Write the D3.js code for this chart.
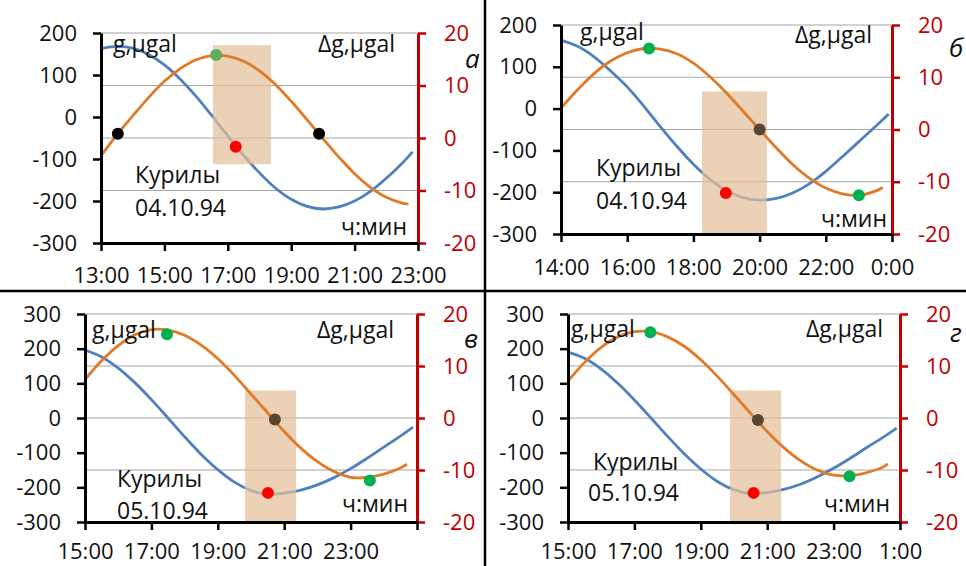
<!DOCTYPE html>
<html><head><meta charset="utf-8">
<script src="https://cdn.jsdelivr.net/npm/d3@7"></script>
<style>
html,body{margin:0;padding:0;background:#fff;}
svg{display:block;font-family:"Open Sans",sans-serif;}
</style></head>
<body>
<svg id="c" width="966" height="566"></svg>
<script>
// ---------- DATA ----------
// Panel а (Курилы 04.10.94)
const gTimeA  = [13,13.5,14,14.5,15,15.5,16,16.5,17,17.5,18,18.5,19,19.5,20,20.5,21,21.5,22,22.5,22.83];
const gA      = [163,168,164,149,124,90,49,3,-45,-91,-133,-169,-196,-213,-219,-214,-200,-177,-146,-110,-83];
const dgTimeA = [13,13.5,14,14.5,15,15.5,16,16.5,17,17.5,18,18.5,19,19.5,20,20.5,21,21.5,22,22.5,22.7];
const dgA     = [-3.4,0.6,4.2,7.7,10.8,13.2,14.9,15.7,15.6,14.6,12.8,10.2,7.0,3.5,-0.1,-3.6,-6.8,-9.4,-11.3,-12.4,-12.6];
const dotTimeA = [13.53,19.88,16.63,17.25];
const dotValA  = [0.8,0.8,15.8,-71];
const dotKindA = ["zero","zero","maxA","g"];
const bandA    = [16.53,18.36,-5.0,17.7];
const xTickA   = [13,15,17,19,21,23];
const xLabelA  = ["13:00","15:00","17:00","19:00","21:00","23:00"];

// Panel б (Курилы 04.10.94)
const gTimeB  = [14,14.5,15,15.5,16,16.5,17,17.5,18,18.5,19,19.5,20,20.5,21,21.5,22,22.5,23,23.5,23.9];
const gB      = [164,149,124,90,52,6,-43,-90,-133,-169,-196,-213,-219,-215,-202,-180,-150,-115,-79,-43,-13];
const dgTimeB = [14,14.5,15,15.5,16,16.5,17,17.5,18,18.5,19,19.5,20,20.5,21,21.5,22,22.5,23,23.5,23.72];
const dgB     = [4.1,7.6,10.7,13.1,14.7,15.5,15.4,14.5,12.7,10.1,7.0,3.5,0.0,-3.5,-6.7,-9.3,-11.2,-12.3,-12.6,-11.8,-11.1];
const dotTimeB = [16.66,20.0,23.0,18.98];
const dotValB  = [15.5,0,-12.6,-202];
const dotKindB = ["max","zero2","max","g"];
const bandB    = [18.26,20.22,-20,7.3];
const xTickB   = [14,16,18,20,22,24];
const xLabelB  = ["14:00","16:00","18:00","20:00","22:00","0:00"];

// Panel в (Курилы 05.10.94)
const gTimeC  = [15,15.5,16,16.5,17,17.5,18,18.5,19,19.5,20,20.5,21,21.5,22,22.5,23,23.5,24,24.5,24.88];
const gC      = [196,176,144,102,53,0,-54,-105,-149,-185,-209,-220,-217,-208,-193,-172,-146,-116,-84,-52,-26];
const dgTimeC = [15,15.5,16,16.5,17,17.5,18,18.5,19,19.5,20,20.5,21,21.5,22,22.5,23,23.5,24,24.5,24.7];
const dgC     = [7.4,11.0,13.9,16.0,17.0,16.9,15.9,14.0,11.4,8.2,4.6,1.0,-2.6,-5.8,-8.4,-10.3,-11.4,-11.4,-10.8,-9.6,-8.9];
const dotTimeC = [17.47,20.72,23.58,20.51];
const dotValC  = [16.1,-0.3,-12.0,-216];
const dotKindC = ["max","zero2","max","g"];
const bandC    = [19.82,21.36,-20,5.3];
const xTickC   = [15,17,19,21,23,25];
const xLabelC  = ["15:00","17:00","19:00","21:00","23:00",""];

// Panel г (Курилы 05.10.94)
const gTimeD  = [15,15.5,16,16.5,17,17.5,18,18.5,19,19.5,20,20.5,21,21.5,22,22.5,23,23.5,24,24.5,24.9];
const gD      = [190,172,141,100,52,0,-53,-103,-147,-183,-207,-218,-215,-206,-191,-170,-145,-116,-85,-55,-29];
const dgTimeD = [15,15.5,16,16.5,17,17.5,18,18.5,19,19.5,20,20.5,21,21.5,22,22.5,23,23.5,24,24.5,24.63];
const dgD     = [7.1,10.7,13.6,15.6,16.6,16.6,15.6,13.8,11.2,8.0,4.5,0.9,-2.6,-5.7,-8.2,-10.0,-11.0,-11.1,-10.5,-9.4,-8.8];
const dotTimeD = [17.48,20.72,23.48,20.59];
const dotValD  = [16.5,-0.4,-11.2,-216];
const dotKindD = ["max","zero2","max","g"];
const bandD    = [19.88,21.42,-20,5.3];
const xTickD   = [15,17,19,21,23,25];
const xLabelD  = ["15:00","17:00","19:00","21:00","23:00","1:00"];

const leftTicks5 = [200,100,0,-100,-200,-300];
const leftTicks6 = [300,200,100,0,-100,-200,-300];
const rightTicks = [20,10,0,-10,-20];

// ---------- STYLE ----------
const BLUE = "#4f81bd", ORANGE = "#e07a26", DARKRED = "#c00000", GRID = "#a6a6a6";
const dotColor = {zero:"#000000", maxA:"#5fae5f", max:"#00b050", zero2:"#594630", g:"#ff0000"};

const panels = [
  {x0:101,x1:418,y0:33,y1:243, tD:[13,23], lD:[-300,200], lT:leftTicks5, pad:16,
   gt:gTimeA,g:gA,dt:dgTimeA,dg:dgA, dotT:dotTimeA,dotV:dotValA,dotK:dotKindA, band:bandA, xT:xTickA, xL:xLabelA,
   place:"Курилы", date:"04.10.94", letter:"а",
   txt:{g:[113,52], dg:[318,52], pl:[135,183], dt:[135,216], ch:[407,235], le:[465,68]}},
  {x0:561,x1:892,y0:25,y1:234, tD:[14,24], lD:[-300,200], lT:leftTicks5, pad:17,
   gt:gTimeB,g:gB,dt:dgTimeB,dg:dgB, dotT:dotTimeB,dotV:dotValB,dotK:dotKindB, band:bandB, xT:xTickB, xL:xLabelB,
   place:"Курилы", date:"04.10.94", letter:"б",
   txt:{g:[580,40], dg:[795,43], pl:[596,176], dt:[596,209], ch:[887,227], le:[949,57]}},
  {x0:85,x1:417,y0:314,y1:522, tD:[15,25], lD:[-300,300], lT:leftTicks6, pad:13,
   gt:gTimeC,g:gC,dt:dgTimeC,dg:dgC, dotT:dotTimeC,dotV:dotValC,dotK:dotKindC, band:bandC, xT:xTickC, xL:xLabelC,
   place:"Курилы", date:"05.10.94", letter:"в",
   txt:{g:[92,338], dg:[317,338], pl:[117,487], dt:[117,519], ch:[408,512], le:[464,348]}},
  {x0:568,x1:900,y0:314,y1:522, tD:[15,25], lD:[-300,300], lT:leftTicks6, pad:13,
   gt:gTimeD,g:gD,dt:dgTimeD,dg:dgD, dotT:dotTimeD,dotV:dotValD,dotK:dotKindD, band:bandD, xT:xTickD, xL:xLabelD,
   place:"Курилы", date:"05.10.94", letter:"г",
   txt:{g:[571,337], dg:[806,337], pl:[593,470], dt:[588,501], ch:[890,512], le:[950,342]}}
];

const svg = d3.select("#c");
const fmt = d => String(d);   // plain hyphen-minus like the reference

panels.forEach(p => {
  const x = d3.scaleLinear().domain(p.tD).range([p.x0,p.x1]);
  const yl = d3.scaleLinear().domain(p.lD).range([p.y1,p.y0]);
  const yr = d3.scaleLinear().domain([-20,20]).range([p.y1,p.y0]);
  const G = svg.append("g");

  // gridlines (right axis)
  G.selectAll("line.grid").data(rightTicks).join("line")
    .attr("x1",p.x0).attr("x2",p.x1).attr("y1",d=>yr(d)).attr("y2",d=>yr(d))
    .attr("stroke",GRID).attr("stroke-width",1.2);

  const line = d3.line().curve(d3.curveCatmullRom.alpha(0.5));
  // blue g curve
  G.append("path").attr("d", line(p.gt.map((t,i)=>[x(t), yl(p.g[i])])))
    .attr("fill","none").attr("stroke",BLUE).attr("stroke-width",2.8);
  // shaded band
  G.append("rect").attr("x",x(p.band[0])).attr("width",x(p.band[1])-x(p.band[0]))
    .attr("y",yr(p.band[3])).attr("height",yr(p.band[2])-yr(p.band[3]))
    .attr("fill","#e3bf9a").attr("opacity",0.72);
  // orange dg curve
  G.append("path").attr("d", line(p.dt.map((t,i)=>[x(t), yr(p.dg[i])])))
    .attr("fill","none").attr("stroke",ORANGE).attr("stroke-width",2.8);

  // dots
  G.selectAll("circle").data(p.dotT.map((t,i)=>({t, v:p.dotV[i], k:p.dotK[i]}))).join("circle")
    .attr("cx",d=>x(d.t)).attr("cy",d=>d.k==="g"?yl(d.v):yr(d.v)).attr("r",6)
    .attr("fill",d=>dotColor[d.k]);

  // axes
  const ax = (sel,color)=>{
    sel.attr("font-family","'Open Sans',sans-serif").attr("font-size",22);
    sel.select(".domain").attr("stroke",color).attr("stroke-width",3);
    sel.selectAll(".tick line").attr("stroke",color).attr("stroke-width",2.5);
    sel.selectAll(".tick text").attr("fill",color==="#000"?"#111":color);
  };
  G.append("g").attr("transform",`translate(${p.x0},0)`)
    .call(d3.axisLeft(yl).tickValues(p.lT).tickSize(8).tickSizeOuter(0).tickPadding(16).tickFormat(fmt))
    .call(s=>ax(s,"#000"));
  G.append("g").attr("transform",`translate(${p.x1},0)`)
    .call(d3.axisRight(yr).tickValues(rightTicks).tickSize(8).tickSizeOuter(0).tickPadding(18).tickFormat(fmt))
    .call(s=>ax(s,DARKRED));
  G.append("g").attr("transform",`translate(0,${p.y1})`)
    .call(d3.axisBottom(x).tickValues(p.xT).tickSize(8).tickSizeOuter(0).tickPadding(p.pad).tickFormat((d,i)=>p.xL[i]))
    .call(s=>ax(s,"#000"));

  // annotations
  const T = (xy,str,anchor,size,style)=>G.append("text").attr("x",xy[0]).attr("y",xy[1])
      .attr("text-anchor",anchor).attr("font-size",size).attr("fill","#111")
      .attr("font-style",style||"normal").text(str);
  T(p.txt.g,"g,μgal","start",23);
  T(p.txt.dg,"Δg,μgal","start",23);
  T(p.txt.pl,p.place,"start",23);
  T(p.txt.dt,p.date,"start",23);
  T(p.txt.ch,"ч:мин","end",23);
  T(p.txt.le,p.letter,"start",26,"italic");
});

// panel separators
svg.append("line").attr("x1",485).attr("x2",485).attr("y1",0).attr("y2",566).attr("stroke","#000").attr("stroke-width",2.5);
svg.append("line").attr("x1",0).attr("x2",966).attr("y1",291).attr("y2",291).attr("stroke","#000").attr("stroke-width",2.5);
</script>
</body></html>
